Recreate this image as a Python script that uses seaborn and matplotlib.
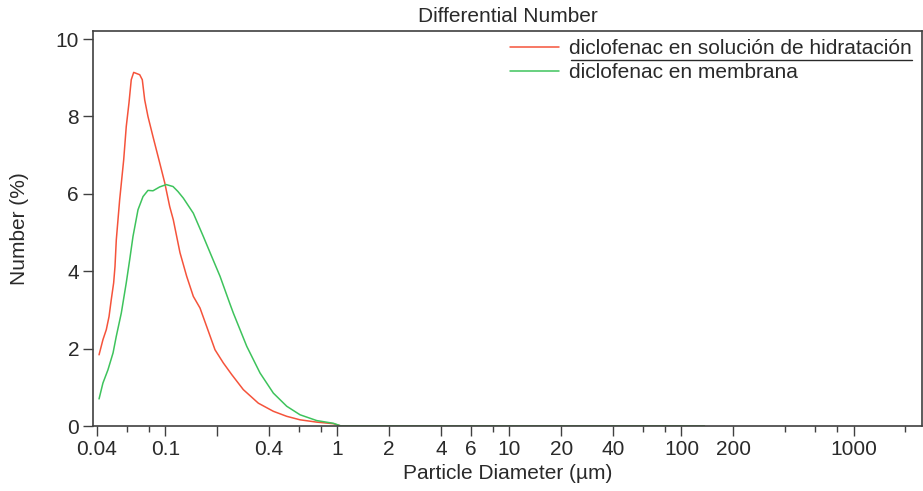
import numpy as np
import pandas as pd
import matplotlib
matplotlib.use("Agg")
import matplotlib.pyplot as plt
import seaborn as sns
from matplotlib.lines import Line2D

# ---- data ----
red_label = "diclofenac en solución de hidratación"
green_label = "diclofenac en membrana"

red_d = [0.0412, 0.0434, 0.0454, 0.0471, 0.0485, 0.0501, 0.0510, 0.0519, 0.0543, 0.0573,
         0.0593, 0.0615, 0.0634, 0.0655, 0.0710, 0.0735, 0.0759, 0.0793, 0.0848, 0.0928,
         0.0992, 0.1061, 0.1113, 0.1217, 0.1331, 0.1455, 0.1591, 0.1740, 0.1945, 0.2174,
         0.2432, 0.2841, 0.3473, 0.4246, 0.5080, 0.6069, 0.7590, 0.9478, 1.05, 136.0]
red_v = [1.84, 2.23, 2.49, 2.83, 3.26, 3.70, 4.12, 4.81, 5.85, 6.88,
         7.74, 8.35, 8.95, 9.14, 9.08, 8.95, 8.43, 8.00, 7.48, 6.80,
         6.29, 5.67, 5.33, 4.48, 3.87, 3.35, 3.05, 2.57, 1.97, 1.63,
         1.33, 0.94, 0.59, 0.38, 0.25, 0.16, 0.10, 0.06, 0.0, 0.0]

green_d = [0.0412, 0.0434, 0.0464, 0.0497, 0.0519, 0.0555, 0.0593, 0.0621, 0.0649, 0.0694,
           0.0742, 0.0793, 0.0848, 0.0928, 0.1013, 0.1109, 0.1185, 0.1273, 0.1455, 0.1663,
           0.1861, 0.2080, 0.2378, 0.2485, 0.2974, 0.3553, 0.4246, 0.5080, 0.6069, 0.7590,
           0.9478, 1.05, 136.0]
green_v = [0.70, 1.11, 1.45, 1.89, 2.32, 2.92, 3.70, 4.30, 4.90, 5.59,
           5.93, 6.09, 6.08, 6.18, 6.24, 6.19, 6.06, 5.89, 5.50, 4.90,
           4.38, 3.87, 3.15, 2.92, 2.06, 1.37, 0.85, 0.51, 0.29, 0.14,
           0.07, 0.0, 0.0]

major_ticks = [0.04, 0.1, 0.2, 0.4, 1, 2, 4, 6, 10, 20, 40, 100, 200, 1000]
major_labels = ["0.04", "0.1", "", "0.4", "1", "2", "4", "6", "10", "20", "40", "100", "200", "1000"]
minor_ticks = [0.06, 0.08, 0.6, 0.8, 8, 60, 80, 400, 600, 800, 2000]
y_ticks = [0, 2, 4, 6, 8, 10]

df = pd.concat([
    pd.DataFrame({"d": red_d, "v": red_v, "serie": red_label}),
    pd.DataFrame({"d": green_d, "v": green_v, "serie": green_label}),
], ignore_index=True)

sns.set_style("ticks")
plt.rcParams["font.family"] = ["Liberation Sans", "DejaVu Sans"]
txt = "#2a2a2a"
spine = "#404040"

fig = plt.figure(figsize=(9.23, 4.91), dpi=100)
ax = fig.add_axes([93/923, 1-426/491, 829/923, 395/491])

palette = {red_label: "#f5533b", green_label: "#3ec35c"}
sns.lineplot(data=df, x="d", y="v", hue="serie", palette=palette, ax=ax,
             linewidth=1.1, legend=False, sort=False, estimator=None)

ax.set_xscale("log")
ax.set_xlim(0.038, 2500)
ax.set_ylim(0, 10.21)
ax.set_xticks(major_ticks)
ax.set_xticklabels(major_labels)
ax.set_xticks(minor_ticks, minor=True)
ax.set_xticklabels([], minor=True)
ax.set_yticks(y_ticks)
ax.set_yticklabels([str(t) for t in y_ticks])

ax.tick_params(axis="both", which="major", direction="out", length=7, width=1.0,
               color=spine, labelsize=15, labelcolor=txt, pad=3)
ax.tick_params(axis="x", which="minor", direction="out", length=4, width=1.0, color=spine)
for s in ax.spines.values():
    s.set_visible(True)
    s.set_color(spine)
    s.set_linewidth(1.2)

ax.set_xlabel("Particle Diameter (µm)", fontsize=15, color=txt, labelpad=4)
ax.set_ylabel("Number (%)", fontsize=15, color=txt, labelpad=19)
ax.set_title("Differential Number", fontsize=15, color=txt, pad=6.5)

handles = [Line2D([], [], color=palette[red_label], lw=1.1),
           Line2D([], [], color=palette[green_label], lw=1.1)]
ax.legend(handles, [red_label, green_label], loc="upper left",
          bbox_to_anchor=((510-93)/829, 1-(39.5-31)/395), frameon=False,
          fontsize=15, labelcolor=txt, handlelength=2.35, handletextpad=0.5,
          borderpad=0, borderaxespad=0, labelspacing=0.22)
ax.plot([(571-93)/829, (912-93)/829], [1-(60-31)/395]*2, transform=ax.transAxes,
        color=txt, lw=1.0, clip_on=False)

fig.savefig("out.png", dpi=100)
